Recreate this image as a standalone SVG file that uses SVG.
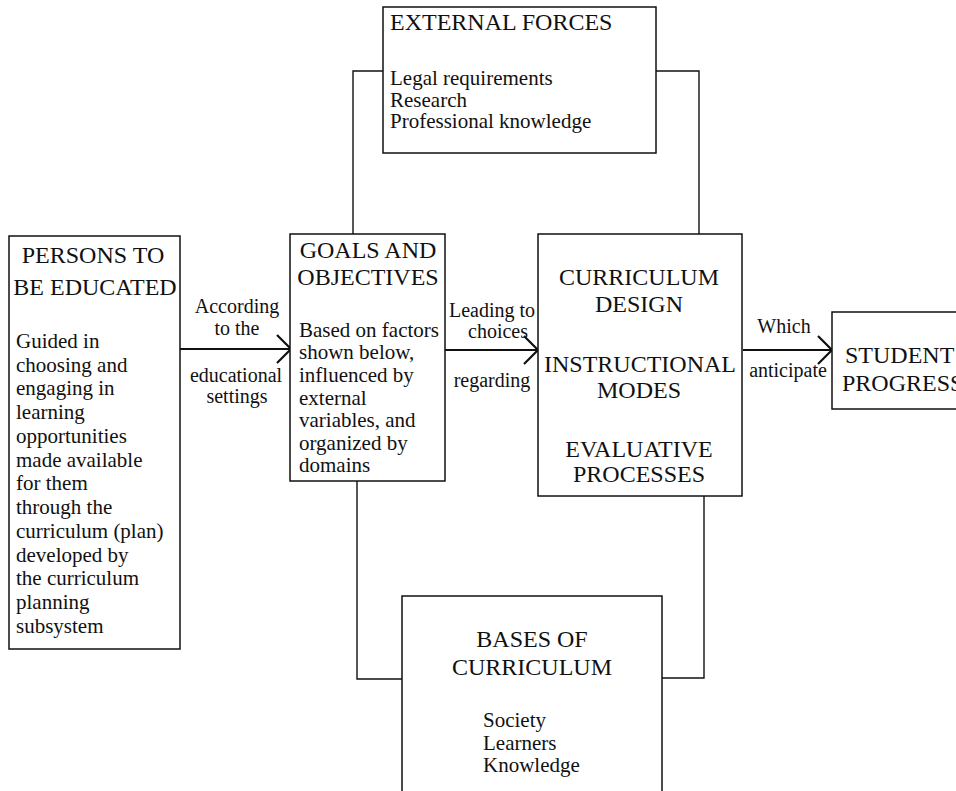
<svg xmlns="http://www.w3.org/2000/svg" width="956" height="791" viewBox="0 0 956 791" font-family="'Liberation Serif', 'DejaVu Serif', 'Noto Serif', serif">
  <style>
    .box { fill: #ffffff; stroke: #111111; stroke-width: 1.5; }
    .wire { fill: none; stroke: #111111; stroke-width: 1.4; }
    .flow { fill: none; stroke: #111111; stroke-width: 2; }
    .head { fill: none; stroke: #111111; stroke-width: 2.2; stroke-linejoin: miter; }
    text { font-family: 'Liberation Serif', 'DejaVu Serif', 'Noto Serif', serif; fill: #111111; }
    .title { font-size: 24px; }
    .body { font-size: 21px; }
    .lbl { font-size: 20px; text-anchor: middle; }
    .mid { text-anchor: middle; }
  </style>

  <!-- connectors -->
  <g id="connectors">
    <!-- external forces feeding goals and curriculum -->
    <polyline class="wire" points="383,71 353,71 353,234"/>
    <polyline class="wire" points="656,71 699,71 699,234"/>
    <!-- bases feeding goals and curriculum -->
    <polyline class="wire" points="357,481 357,679 402,679"/>
    <polyline class="wire" points="704,496 704,678 662,678"/>
    <!-- main flow arrows -->
    <line class="flow" x1="180" y1="349" x2="290" y2="349"/>
    <polyline class="head" points="277,335 291,349 277,363"/>
    <line class="flow" x1="445" y1="350" x2="538" y2="350"/>
    <polyline class="head" points="524,336 538,350 524,364"/>
    <line class="flow" x1="743" y1="350" x2="832" y2="350"/>
    <polyline class="head" points="818,336 832,350 818,364"/>
    <!-- arrow labels -->
    <text class="lbl" x="237" y="313">According</text>
    <text class="lbl" x="237" y="335">to the</text>
    <text class="lbl" x="236" y="382">educational</text>
    <text class="lbl" x="237" y="403">settings</text>
    <text class="lbl" x="492" y="317">Leading to</text>
    <text class="lbl" x="498" y="338">choices</text>
    <text class="lbl" x="492" y="387">regarding</text>
    <text class="lbl" x="784" y="333">Which</text>
    <text class="lbl" x="788" y="377">anticipate</text>
  </g>

  <g id="external-forces">
    <rect class="box" x="383" y="7" width="273" height="146"/>
    <text class="title" x="390" y="30" font-size="23">EXTERNAL FORCES</text>
    <text class="body" x="390" y="85">Legal requirements</text>
    <text class="body" x="390" y="107">Research</text>
    <text class="body" x="390" y="128">Professional knowledge</text>
  </g>

  <g id="persons">
    <rect class="box" x="9" y="236" width="171" height="413"/>
    <text class="title mid" x="93" y="263">PERSONS TO</text>
    <text class="title mid" x="95" y="295">BE EDUCATED</text>
    <text class="body" x="16" y="348">Guided in</text>
    <text class="body" x="16" y="372">choosing and</text>
    <text class="body" x="16" y="395">engaging in</text>
    <text class="body" x="16" y="419">learning</text>
    <text class="body" x="16" y="443">opportunities</text>
    <text class="body" x="16" y="467">made available</text>
    <text class="body" x="16" y="490">for them</text>
    <text class="body" x="16" y="514">through the</text>
    <text class="body" x="16" y="538">curriculum (plan)</text>
    <text class="body" x="16" y="562">developed by</text>
    <text class="body" x="16" y="585">the curriculum</text>
    <text class="body" x="16" y="609">planning</text>
    <text class="body" x="16" y="633">subsystem</text>
  </g>

  <g id="goals">
    <rect class="box" x="290" y="234" width="155" height="247"/>
    <text class="title mid" x="368" y="258">GOALS AND</text>
    <text class="title mid" x="368" y="285">OBJECTIVES</text>
    <text class="body" x="299" y="337">Based on  factors</text>
    <text class="body" x="299" y="359">shown below,</text>
    <text class="body" x="299" y="382">influenced by</text>
    <text class="body" x="299" y="405">external</text>
    <text class="body" x="299" y="427">variables, and</text>
    <text class="body" x="299" y="450">organized by</text>
    <text class="body" x="299" y="472">domains</text>
  </g>

  <g id="curriculum">
    <rect class="box" x="538" y="234" width="204" height="262"/>
    <text class="title mid" x="639" y="285">CURRICULUM</text>
    <text class="title mid" x="639" y="312">DESIGN</text>
    <text class="title mid" x="640" y="372">INSTRUCTIONAL</text>
    <text class="title mid" x="639" y="398">MODES</text>
    <text class="title mid" x="639" y="457">EVALUATIVE</text>
    <text class="title mid" x="639" y="482">PROCESSES</text>
  </g>

  <g id="student-progress">
    <rect class="box" x="832" y="312" width="140" height="97"/>
    <text class="title" x="845" y="363">STUDENT</text>
    <text class="title" x="842" y="391">PROGRESS</text>
  </g>

  <g id="bases">
    <rect class="box" x="402" y="596" width="260" height="210"/>
    <text class="title mid" x="532" y="647">BASES OF</text>
    <text class="title mid" x="532" y="675">CURRICULUM</text>
    <text class="body" x="483" y="727">Society</text>
    <text class="body" x="483" y="750">Learners</text>
    <text class="body" x="483" y="772">Knowledge</text>
  </g>
</svg>
